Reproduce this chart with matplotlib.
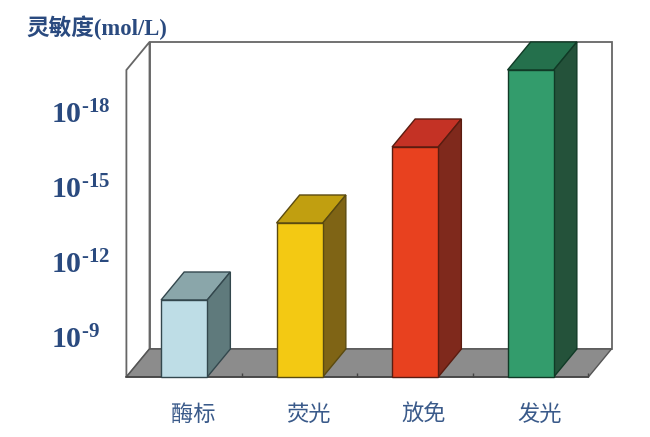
import matplotlib
matplotlib.use('Agg')
import matplotlib.pyplot as plt
from matplotlib.patches import Polygon
from matplotlib.transforms import ScaledTranslation

# values, exponent of the sensitivity
methods = ['酶标', '荧光', '放免', '发光']
exponents = [10.48, 13.56, 16.6, 19.68]
tick_exponents = [9, 12, 15, 18]
tick_labels = [r'$\mathbf{10^{\text{-}%d}}$' % e for e in tick_exponents]

front_colors = ['#bedde6', '#f3c913', '#e8411f', '#339c6c']
top_colors = ['#8aa6aa', '#c19f10', '#c43225', '#24704c']
side_colors = ['#5f7a7c', '#7f6415', '#7f291c', '#24523a']
edge_colors = ['#33474d', '#5a4a10', '#5a1c10', '#103a26']

text_color = '#2a4a7f'
wall_color = '#666666'
floor_color = '#8c8c8c'

plt.rcParams['mathtext.fontset'] = 'custom'
plt.rcParams['mathtext.bf'] = 'Liberation Serif:bold'
plt.rcParams['mathtext.rm'] = 'Liberation Serif:bold'

fig = plt.figure(figsize=(6.5, 4.37), dpi=100)
ax = fig.add_axes([126.4 / 650, 60 / 437, 462 / 650, 335 / 437])

y_floor = 7.4
y_top = 20.8
ax.set_xlim(-0.5, 3.5)
ax.set_ylim(y_floor, y_top)

# depth of the fake 3d box, in data units
dx = 0.2
dy = 1.12
bar_width = 0.4
x0, x1 = -0.5, 3.5

# walls and floor
ax.add_patch(Polygon([(x0 + dx, y_floor + dy), (x1 + dx, y_floor + dy), (x1 + dx, y_top), (x0 + dx, y_top)],
                     fc='white', ec=wall_color, lw=1.3, clip_on=False, zorder=1))
ax.add_patch(Polygon([(x0, y_floor), (x0 + dx, y_floor + dy), (x0 + dx, y_top), (x0, y_top - dy)],
                     fc='white', ec=wall_color, lw=1.3, clip_on=False, zorder=1))
ax.add_patch(Polygon([(x0, y_floor), (x0 + dx, y_floor + dy), (x1 + dx, y_floor + dy), (x1, y_floor)],
                     fc=floor_color, ec='#555555', lw=1.0, clip_on=False, zorder=2))

# front faces, then top and side built from the same values
bars = ax.bar(range(len(methods)), [e - y_floor for e in exponents], bottom=y_floor, width=bar_width,
              color=front_colors, edgecolor=edge_colors, linewidth=1.0, zorder=4, clip_on=False)
for i, bar in enumerate(bars):
    left = bar.get_x()
    right = left + bar.get_width()
    top = bar.get_y() + bar.get_height()
    ax.add_patch(Polygon([(left, top), (left + dx, top + dy), (right + dx, top + dy), (right, top)],
                         fc=top_colors[i], ec=edge_colors[i], lw=1.0, clip_on=False, zorder=3))
    ax.add_patch(Polygon([(right, y_floor), (right + dx, y_floor + dy), (right + dx, top + dy), (right, top)],
                         fc=side_colors[i], ec=edge_colors[i], lw=1.0, clip_on=False, zorder=3))

for name, spine in ax.spines.items():
    spine.set_visible(name == 'bottom')
ax.spines['bottom'].set_color('#444444')
ax.spines['bottom'].set_linewidth(1.2)
ax.spines['bottom'].set_zorder(2.5)
ax.patch.set_visible(False)
ax.set_axisbelow(False)

ax.set_yticks(tick_exponents)
ax.set_yticklabels(tick_labels, fontsize=21.5, color=text_color, ha='left')
ax.tick_params(axis='y', length=0, pad=54.5)

ax.set_xticks(range(len(methods)))
ax.set_xticklabels(methods, family=['Noto Sans CJK SC', 'DejaVu Sans'], fontsize=16, color='#3a5a8a')
ax.set_xticks([0.5, 1.5, 2.5, 3.5], minor=True)
ax.tick_params(axis='x', which='major', length=0, pad=18.5)
ax.tick_params(axis='x', which='minor', length=3, direction='in', color='#444444', width=1)

# labels sit a little to the right of the bars in the original
shift = ScaledTranslation(9 / 100, 0, fig.dpi_scale_trans)
for label in ax.get_xticklabels():
    label.set_transform(label.get_transform() + shift)

fig.text(26 / 650, 1 - 28 / 437, '灵敏度(mol/L)', family=['Liberation Serif', 'Noto Sans CJK SC'],
         fontweight='bold', fontsize=16.3, color=text_color, va='center', ha='left')

fig.savefig('out.png', dpi=100)
